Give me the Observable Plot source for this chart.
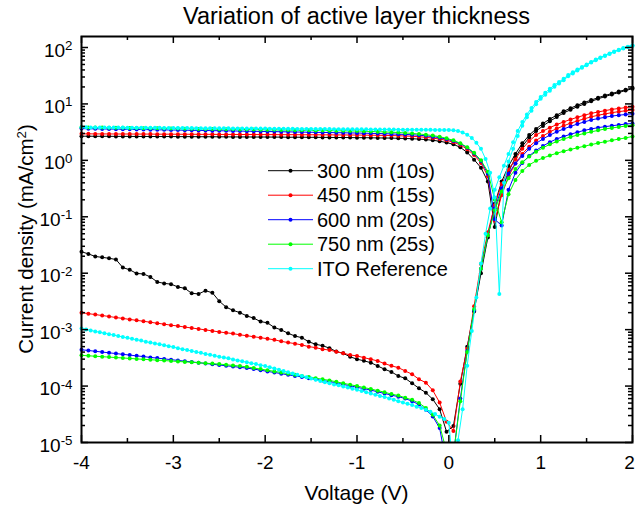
<!DOCTYPE html>
<html><head><meta charset="utf-8">
<script src="https://cdn.jsdelivr.net/npm/d3@7"></script>
<script src="https://cdn.jsdelivr.net/npm/@observablehq/plot@0.6"></script>
<style>
html,body{margin:0;padding:0;background:#fff;}
#chart svg{display:block;}
</style>
</head><body><div id="chart"></div>
<script>
// ---- Voltage sweeps ----
const voltage = [
-4, -3.925, -3.85, -3.775, -3.7, -3.625, -3.55, -3.475, -3.4, -3.325,
-3.25, -3.175, -3.1, -3.025, -2.95, -2.875, -2.8, -2.725, -2.65, -2.575,
-2.5, -2.425, -2.35, -2.275, -2.2, -2.125, -2.05, -1.975, -1.9, -1.825,
-1.75, -1.675, -1.6, -1.525, -1.45, -1.375, -1.3, -1.225, -1.15, -1.075,
-1, -0.925, -0.85, -0.775, -0.7, -0.625, -0.55, -0.475, -0.4, -0.325,
-0.25, -0.175, -0.1, -0.025, 0.05, 0.125, 0.2, 0.275, 0.35, 0.425,
0.5, 0.575, 0.65, 0.725, 0.8, 0.875, 0.95, 1.025, 1.1, 1.175,
1.25, 1.325, 1.4, 1.475, 1.55, 1.625, 1.7, 1.775, 1.85, 1.925,
2];
const voltageITO = [
-4, -3.95, -3.9, -3.85, -3.8, -3.75, -3.7, -3.65, -3.6, -3.55,
-3.5, -3.45, -3.4, -3.35, -3.3, -3.25, -3.2, -3.15, -3.1, -3.05,
-3, -2.95, -2.9, -2.85, -2.8, -2.75, -2.7, -2.65, -2.6, -2.55,
-2.5, -2.45, -2.4, -2.35, -2.3, -2.25, -2.2, -2.15, -2.1, -2.05,
-2, -1.95, -1.9, -1.85, -1.8, -1.75, -1.7, -1.65, -1.6, -1.55,
-1.5, -1.45, -1.4, -1.35, -1.3, -1.25, -1.2, -1.15, -1.1, -1.05,
-1, -0.95, -0.9, -0.85, -0.8, -0.75, -0.7, -0.65, -0.6, -0.55,
-0.5, -0.45, -0.4, -0.35, -0.3, -0.25, -0.2, -0.15, -0.1, -0.05,
0, 0.05, 0.1, 0.15, 0.2, 0.25, 0.3, 0.35, 0.4, 0.45,
0.5, 0.55, 0.6, 0.65, 0.7, 0.75, 0.8, 0.85, 0.9, 0.95,
1, 1.05, 1.1, 1.15, 1.2, 1.25, 1.3, 1.35, 1.4, 1.45,
1.5, 1.55, 1.6, 1.65, 1.7, 1.75, 1.8, 1.85, 1.9, 1.95,
2];

// ---- Current density |J| (mA/cm2) ----
const blackDark = [
0.024, 0.022, 0.0198, 0.0191, 0.0184, 0.0175, 0.0126, 0.0115, 0.0099, 0.0097,
0.0086, 0.0070, 0.0066, 0.0064, 0.0057, 0.0054, 0.0044, 0.0043, 0.0049, 0.0045,
0.0032, 0.0025, 0.0022, 0.0020, 0.00175, 0.0016, 0.00139, 0.00132, 0.00109, 0.00099,
0.00086, 0.00077, 0.00072, 0.00061, 0.00055, 0.00052, 0.00047, 0.00041, 0.00038, 0.00033,
0.00030, 0.00028, 0.00026, 0.000227, 0.000199, 0.000178, 0.000151, 0.000137, 0.000112, 0.0000914,
0.0000764, 0.0000583, 0.0000388, 0.0000155, 0.0000196, 0.00011, 0.0005, 0.0021, 0.010, 0.043,
0.17, 0.42, 0.79, 1.30, 2.0, 2.8, 3.6, 4.5, 5.4, 6.3,
7.4, 8.4, 9.5, 10.6, 11.7, 12.9, 14.1, 15.3, 16.6, 17.9,
19.3];
const blackLight = [
2.68, 2.68, 2.67, 2.67, 2.67, 2.66, 2.66, 2.66, 2.65, 2.65,
2.65, 2.64, 2.64, 2.64, 2.63, 2.63, 2.63, 2.62, 2.62, 2.62,
2.61, 2.61, 2.60, 2.60, 2.60, 2.59, 2.59, 2.59, 2.58, 2.58,
2.57, 2.57, 2.57, 2.56, 2.56, 2.55, 2.55, 2.54, 2.54, 2.53,
2.52, 2.52, 2.51, 2.50, 2.49, 2.48, 2.46, 2.44, 2.42, 2.38,
2.33, 2.27, 2.18, 2.07, 1.92, 1.70, 1.38, 1.03, 0.74, 0.42,
0.066, 0.30, 0.62, 1.13, 1.77, 2.53, 3.30, 4.08, 4.94, 5.85,
6.91, 7.88, 8.93, 10.0, 11.1, 12.3, 13.5, 14.7, 15.9, 17.3,
18.6];
const redDark = [
2.00e-3, 1.92e-3, 1.85e-3, 1.78e-3, 1.71e-3, 1.64e-3, 1.58e-3, 1.52e-3, 1.46e-3, 1.41e-3,
1.35e-3, 1.30e-3, 1.25e-3, 1.20e-3, 1.16e-3, 1.11e-3, 1.07e-3, 1.03e-3, 9.9e-4, 9.5e-4,
9.1e-4, 8.8e-4, 8.5e-4, 8.1e-4, 7.8e-4, 7.5e-4, 7.2e-4, 6.9e-4, 6.6e-4, 6.2e-4,
5.9e-4, 5.65e-4, 5.36e-4, 5.0e-4, 4.8e-4, 4.5e-4, 4.35e-4, 4.05e-4, 3.82e-4, 3.56e-4,
3.42e-4, 3.19e-4, 2.99e-4, 2.79e-4, 2.50e-4, 2.28e-4, 2.12e-4, 1.85e-4, 1.62e-4, 1.32e-4,
1.15e-4, 8.4e-5, 5.1e-5, 2.33e-5, 1.6e-5, 1.2e-4, 4.6e-4, 2.6e-3, 0.0145, 0.053,
0.16, 0.38, 0.68, 1.05, 1.6, 2.2, 2.8, 3.3, 3.8, 4.3,
4.8, 5.3, 5.8, 6.3, 6.8, 7.2, 7.6, 8.0, 8.3, 8.6,
8.9];
const redLight = [
2.95, 2.95, 2.94, 2.94, 2.94, 2.93, 2.93, 2.93, 2.92, 2.92,
2.92, 2.91, 2.91, 2.91, 2.90, 2.90, 2.90, 2.89, 2.89, 2.89,
2.88, 2.88, 2.88, 2.87, 2.87, 2.87, 2.86, 2.86, 2.86, 2.85,
2.85, 2.85, 2.84, 2.84, 2.84, 2.83, 2.83, 2.82, 2.82, 2.81,
2.81, 2.80, 2.79, 2.78, 2.77, 2.75, 2.73, 2.70, 2.67, 2.62,
2.56, 2.48, 2.38, 2.26, 2.10, 1.88, 1.58, 1.24, 0.90, 0.52,
0.085, 0.24, 0.52, 0.88, 1.3, 1.75, 2.25, 2.7, 3.2, 3.65,
4.1, 4.55, 5.0, 5.45, 5.9, 6.3, 6.65, 7.0, 7.3, 7.55,
7.8];
const blueDark = [
4.40e-4, 4.27e-4, 4.13e-4, 4.01e-4, 3.88e-4, 3.77e-4, 3.65e-4, 3.54e-4, 3.43e-4, 3.33e-4,
3.22e-4, 3.13e-4, 3.03e-4, 2.94e-4, 2.85e-4, 2.76e-4, 2.68e-4, 2.60e-4, 2.51e-4, 2.44e-4,
2.36e-4, 2.29e-4, 2.22e-4, 2.15e-4, 2.08e-4, 2.0e-4, 1.91e-4, 1.82e-4, 1.74e-4, 1.66e-4,
1.58e-4, 1.51e-4, 1.45e-4, 1.38e-4, 1.32e-4, 1.26e-4, 1.20e-4, 1.14e-4, 1.07e-4, 1.01e-4,
9.5e-5, 9.0e-5, 8.5e-5, 7.9e-5, 7.4e-5, 6.9e-5, 6.5e-5, 6.0e-5, 5.4e-5, 4.7e-5,
3.8e-5, 2.9e-5, 1.8e-5, 4e-6, 6e-6, 6e-5, 4.2e-4, 2.2e-3, 0.012, 0.047,
0.14, 0.32, 0.58, 0.88, 1.2, 1.6, 2.0, 2.4, 2.8, 3.2,
3.6, 4.0, 4.4, 4.8, 5.2, 5.5, 5.8, 6.1, 6.3, 6.5,
6.7];
const blueLight = [
3.65, 3.63, 3.62, 3.60, 3.59, 3.57, 3.56, 3.54, 3.53, 3.51,
3.50, 3.48, 3.47, 3.45, 3.44, 3.42, 3.41, 3.39, 3.38, 3.36,
3.35, 3.33, 3.32, 3.30, 3.29, 3.27, 3.26, 3.24, 3.23, 3.21,
3.20, 3.18, 3.17, 3.15, 3.14, 3.12, 3.11, 3.09, 3.08, 3.06,
3.05, 3.03, 3.01, 2.99, 2.97, 2.94, 2.91, 2.88, 2.84, 2.79,
2.72, 2.63, 2.52, 2.38, 2.20, 1.97, 1.68, 1.32, 0.97, 0.58,
0.09, 0.07, 0.3, 0.6, 0.9, 1.2, 1.5, 1.8, 2.1, 2.4,
2.65, 2.9, 3.15, 3.4, 3.6, 3.8, 3.95, 4.1, 4.25, 4.4,
4.5];
const greenDark = [
3.50e-4, 3.44e-4, 3.38e-4, 3.32e-4, 3.26e-4, 3.20e-4, 3.15e-4, 3.09e-4, 3.03e-4, 2.98e-4,
2.93e-4, 2.88e-4, 2.83e-4, 2.78e-4, 2.73e-4, 2.68e-4, 2.64e-4, 2.59e-4, 2.54e-4, 2.50e-4,
2.45e-4, 2.39e-4, 2.32e-4, 2.26e-4, 2.19e-4, 2.09e-4, 2.0e-4, 1.91e-4, 1.82e-4, 1.74e-4,
1.66e-4, 1.58e-4, 1.51e-4, 1.45e-4, 1.38e-4, 1.32e-4, 1.26e-4, 1.19e-4, 1.12e-4, 1.06e-4,
1.0e-4, 9.4e-5, 8.9e-5, 8.3e-5, 7.8e-5, 7.2e-5, 6.8e-5, 6.2e-5, 5.7e-5, 5.0e-5,
4.1e-5, 3.1e-5, 2.0e-5, 7e-6, 6e-6, 5.4e-5, 4.0e-4, 2.3e-3, 0.012, 0.047,
0.13, 0.28, 0.48, 0.7, 0.93, 1.17, 1.42, 1.67, 1.92, 2.15,
2.4, 2.6, 2.8, 3.0, 3.2, 3.4, 3.6, 3.75, 3.9, 4.05,
4.2];
const greenLight = [
3.85, 3.84, 3.82, 3.81, 3.79, 3.78, 3.77, 3.75, 3.74, 3.72,
3.71, 3.70, 3.68, 3.67, 3.65, 3.64, 3.63, 3.61, 3.60, 3.59,
3.57, 3.56, 3.55, 3.53, 3.52, 3.51, 3.49, 3.48, 3.47, 3.45,
3.44, 3.43, 3.41, 3.40, 3.39, 3.37, 3.36, 3.35, 3.33, 3.32,
3.31, 3.28, 3.25, 3.22, 3.19, 3.15, 3.11, 3.06, 3.00, 2.93,
2.85, 2.75, 2.62, 2.46, 2.26, 2.01, 1.71, 1.36, 1.00, 0.63,
0.2, 0.08, 0.25, 0.45, 0.65, 0.83, 0.98, 1.1, 1.22, 1.34,
1.45, 1.56, 1.67, 1.78, 1.9, 2.02, 2.14, 2.26, 2.38, 2.5,
2.65];
const cyanDark = [
1.05e-3, 1.01e-3, 9.7e-4, 9.3e-4, 9.0e-4, 8.65e-4, 8.3e-4, 8.0e-4, 7.7e-4, 7.4e-4,
7.15e-4, 6.9e-4, 6.6e-4, 6.4e-4, 6.1e-4, 5.9e-4, 5.7e-4, 5.5e-4, 5.3e-4, 5.1e-4,
4.9e-4, 4.7e-4, 4.5e-4, 4.35e-4, 4.2e-4, 4.0e-4, 3.9e-4, 3.7e-4, 3.6e-4, 3.45e-4,
3.3e-4, 3.2e-4, 3.1e-4, 2.95e-4, 2.85e-4, 2.75e-4, 2.65e-4, 2.55e-4, 2.45e-4, 2.35e-4,
2.26e-4, 2.15e-4, 2.05e-4, 1.95e-4, 1.85e-4, 1.76e-4, 1.67e-4, 1.59e-4, 1.51e-4, 1.44e-4,
1.36e-4, 1.30e-4, 1.23e-4, 1.17e-4, 1.12e-4, 1.07e-4, 1.03e-4, 9.8e-5, 9.4e-5, 9.0e-5,
8.6e-5, 8.2e-5, 7.8e-5, 7.4e-5, 7.0e-5, 6.7e-5, 6.4e-5, 6.05e-5, 5.75e-5, 5.4e-5,
5.1e-5, 4.85e-5, 4.6e-5, 4.3e-5, 4.1e-5, 3.8e-5, 3.5e-5, 3.2e-5, 2.85e-5, 2.6e-5,
2.25e-5, 3e-6, 1.1e-5, 3.9e-5, 2.3e-4, 9.5e-4, 3.7e-3, 0.0148, 0.05, 0.14,
0.3, 0.5, 0.8, 1.3, 2.1, 3.3, 4.8, 6.5, 8.5, 10.8,
13.2, 15.8, 18.6, 21.6, 24.5, 27.9, 32.4, 36.3, 40.7, 45.2,
50.1, 55.6, 61.0, 66.8, 72.4, 78.5, 85.1, 91.2, 97.7, 103.5,
109.6];
const cyanLight = [
3.85, 3.85, 3.84, 3.84, 3.83, 3.83, 3.82, 3.82, 3.81, 3.81,
3.80, 3.80, 3.79, 3.79, 3.78, 3.78, 3.77, 3.77, 3.76, 3.76,
3.75, 3.75, 3.74, 3.73, 3.73, 3.72, 3.72, 3.71, 3.71, 3.70,
3.70, 3.69, 3.69, 3.68, 3.68, 3.67, 3.67, 3.66, 3.66, 3.65,
3.65, 3.64, 3.64, 3.63, 3.63, 3.62, 3.62, 3.61, 3.61, 3.60,
3.60, 3.59, 3.59, 3.58, 3.58, 3.57, 3.57, 3.56, 3.56, 3.55,
3.55, 3.54, 3.54, 3.53, 3.53, 3.52, 3.52, 3.51, 3.51, 3.50,
3.50, 3.49, 3.49, 3.48, 3.48, 3.47, 3.47, 3.46, 3.46, 3.45,
3.45, 3.40, 3.30, 3.12, 2.85, 2.50, 2.05, 1.60, 1.06, 0.60,
0.22, 0.0043, 0.40, 0.95, 1.6, 2.7, 4.1, 5.8, 7.6, 9.9,
12.3, 14.5, 17.2, 20.2, 23.0, 26.4, 30.8, 34.7, 39.1, 43.6,
48.5, 54.0, 59.4, 65.2, 70.8, 76.9, 83.5, 89.6, 96.1, 101.9,
106.1];

// ---- Series / legend ----
const seriesNames = ["300 nm (10s)", "450 nm (15s)", "600 nm (20s)", "750 nm (25s)", "ITO Reference"];
const seriesColors = ["#000000", "#ff0000", "#0000ff", "#00ff00", "#00ffff"];

// ---- Axis ticks ----
const xMajorTicks = [-4, -3, -2, -1, 0, 1, 2];
const xMinorTicks = [-3.5, -2.5, -1.5, -0.5, 0.5, 1.5];
const yMajorTicks = [1e-5, 1e-4, 1e-3, 1e-2, 1e-1, 1e0, 1e1, 1e2];
const yMinorMultipliers = [2, 3, 4, 5, 6, 7, 8, 9];

const curves = [
  {s: 0, v: voltage, j: blackDark}, {s: 0, v: voltage, j: blackLight},
  {s: 1, v: voltage, j: redDark}, {s: 1, v: voltage, j: redLight},
  {s: 2, v: voltage, j: blueDark}, {s: 2, v: voltage, j: blueLight},
  {s: 3, v: voltage, j: greenDark}, {s: 3, v: voltage, j: greenLight},
  {s: 4, v: voltageITO, j: cyanDark}, {s: 4, v: voltageITO, j: cyanLight}
];

const width = 635, height = 510;
const mTop = 36, mRight = 3, mBottom = 68, mLeft = 81;
const innerW = width - mLeft - mRight;
const innerH = height - mTop - mBottom;
const yMinorTicks = yMajorTicks.slice(0, -1).flatMap(d => yMinorMultipliers.map(m => d * m));
const FONT = "'Liberation Sans', Arial, sans-serif";

const marks = [];
curves.forEach(c => {
  const rows = c.v.map((v, i) => ({V: v, J: c.j[i]}));
  marks.push(Plot.line(rows, {x: "V", y: "J", stroke: seriesColors[c.s], strokeWidth: 1, clip: true}));
  marks.push(Plot.dot(rows.filter(d => d.J >= 1e-5), {x: "V", y: "J", r: 2, fill: seriesColors[c.s], stroke: "none"}));
});

// ticks (inward, on all four sides)
const tk = {stroke: "black", strokeWidth: 1.5};
const lastX = xMajorTicks[xMajorTicks.length - 1];
marks.push(
  Plot.ruleX(xMajorTicks, {x: d => d, insetTop: innerH - 7, ...tk}),
  Plot.ruleX(xMajorTicks, {x: d => d, insetBottom: innerH - 7, ...tk}),
  Plot.ruleX(xMinorTicks, {x: d => d, insetTop: innerH - 4, ...tk}),
  Plot.ruleX(xMinorTicks, {x: d => d, insetBottom: innerH - 4, ...tk}),
  Plot.ruleY(yMajorTicks, {y: d => d, insetRight: innerW - 7, ...tk}),
  Plot.ruleY(yMajorTicks, {y: d => d, insetLeft: innerW - 7, ...tk}),
  Plot.ruleY(yMinorTicks, {y: d => d, insetRight: innerW - 4, ...tk}),
  Plot.ruleY(yMinorTicks, {y: d => d, insetLeft: innerW - 4, ...tk}),
  Plot.axisX(xMajorTicks.filter(d => d !== lastX), {anchor: "bottom", tickSize: 0, tickPadding: 13, tickFormat: d => String(d), fontSize: 19, label: null, fill: "black"}),
  Plot.axisX([lastX], {anchor: "bottom", tickSize: 0, tickPadding: 13, dx: -3, tickFormat: d => String(d), fontSize: 19, label: null, fill: "black"}),
  Plot.axisY(yMajorTicks, {anchor: "left", tickSize: 0, tickPadding: 9, dy: 3, tickFormat: d => "10^" + Math.round(Math.log10(d)), fontSize: 19, label: null, fill: "black"}),
  Plot.frame({stroke: "black", strokeWidth: 2})
);

const svg = Plot.plot({
  width, height,
  marginTop: mTop, marginRight: mRight, marginBottom: mBottom, marginLeft: mLeft,
  x: {domain: [-4, 2]},
  y: {type: "log", domain: [1e-5, 156.6]},
  style: {fontFamily: FONT, background: "white", overflow: "visible"},
  marks
});
document.getElementById("chart").appendChild(svg);

const NS = "http://www.w3.org/2000/svg";
// superscript exponents on y tick labels
d3.select(svg).selectAll('g[aria-label="y-axis tick label"] text').each(function() {
  const m = this.textContent.match(/^10\^(-?\d+)$/);
  if (!m) return;
  this.textContent = "10";
  const ts = document.createElementNS(NS, "tspan");
  ts.setAttribute("dy", "-0.5em");
  ts.setAttribute("font-size", "0.7em");
  ts.textContent = m[1];
  this.appendChild(ts);
});

const root = d3.select(svg);
const cx = mLeft + innerW / 2;
root.append("text").attr("x", cx).attr("y", 24).attr("text-anchor", "middle")
  .attr("font-family", FONT).attr("font-size", 23.5).attr("fill", "black")
  .text("Variation of active layer thickness");
root.append("text").attr("x", cx).attr("y", 500).attr("text-anchor", "middle")
  .attr("font-family", FONT).attr("font-size", 21).attr("fill", "black")
  .text("Voltage (V)");
const yl = root.append("text").attr("transform", `translate(33,${mTop + innerH / 2}) rotate(-90)`)
  .attr("text-anchor", "middle").attr("font-family", FONT).attr("font-size", 20.5).attr("fill", "black");
yl.append("tspan").text("Current density (mA/cm");
yl.append("tspan").attr("dy", "-0.5em").attr("font-size", "0.65em").text("2");
yl.append("tspan").attr("dy", "0.33em").text(")");

// legend
const lg = root.append("g");
seriesNames.forEach((name, i) => {
  const y = 170.7 + 24.5 * i;
  lg.append("line").attr("x1", 268).attr("x2", 313).attr("y1", y).attr("y2", y)
    .attr("stroke", seriesColors[i]).attr("stroke-width", 1);
  lg.append("circle").attr("cx", 290.5).attr("cy", y).attr("r", 2).attr("fill", seriesColors[i]);
  lg.append("text").attr("x", 317).attr("y", y).attr("dy", "0.36em").attr("text-anchor", "start")
    .attr("font-family", FONT).attr("font-size", 20).attr("fill", "black").text(name);
});
</script>
</body></html>
